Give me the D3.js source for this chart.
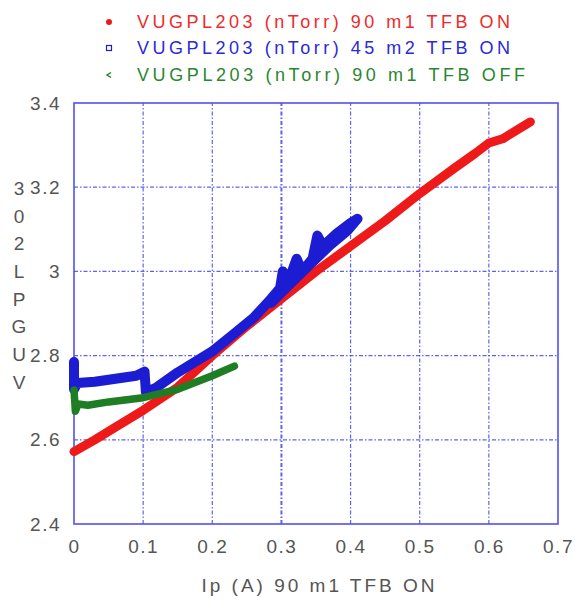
<!DOCTYPE html>
<html>
<head>
<meta charset="utf-8">
<script src="https://cdn.jsdelivr.net/npm/d3@7"></script>
<style>
  html, body { margin: 0; padding: 0; background: #fff; }
  svg { display: block; font-family: "Liberation Sans", Arial, sans-serif; }
</style>
</head>
<body>
<svg id="chart" width="576" height="599"></svg>
<script>
// Axis ticks
const xTicks = [0, 0.1, 0.2, 0.3, 0.4, 0.5, 0.6, 0.7];
const yTicks = [2.4, 2.6, 2.8, 3.0, 3.2, 3.4];
const xTickLabels = ["0", "0.1", "0.2", "0.3", "0.4", "0.5", "0.6", "0.7"];
const yTickLabels = ["2.4", "2.6", "2.8", "3", "3.2", "3.4"];

// Series: pressure vs. Ip (traces in acquisition order)
const seriesNames = [
  "VUGPL203 (nTorr) 90 m1 TFB ON",
  "VUGPL203 (nTorr) 45 m2 TFB ON",
  "VUGPL203 (nTorr) 90 m1 TFB OFF"
];
const redX = [0, 0.03, 0.06, 0.10, 0.15, 0.20, 0.25, 0.30, 0.35, 0.40, 0.45, 0.50, 0.55, 0.58, 0.60, 0.62, 0.66];
const redY = [2.572, 2.60, 2.63, 2.67, 2.725, 2.80, 2.87, 2.935, 3.00, 3.06, 3.12, 3.185, 3.245, 3.28, 3.305, 3.315, 3.355];

const blueX = [0, 0, 0.005, 0.03, 0.06, 0.09, 0.102, 0.104, 0.12, 0.15, 0.18, 0.20, 0.23, 0.26, 0.285, 0.298, 0.302, 0.31, 0.322, 0.33, 0.345, 0.352, 0.36, 0.38, 0.40, 0.41,
               0.395, 0.37, 0.34, 0.31, 0.285];
const blueY = [2.785, 2.72, 2.735, 2.738, 2.745, 2.752, 2.762, 2.713, 2.725, 2.76, 2.79, 2.81, 2.85, 2.89, 2.935, 2.96, 3.0, 2.975, 3.03, 3.0, 3.03, 3.085, 3.06, 3.09, 3.115, 3.125,
               3.096, 3.062, 3.014, 2.966, 2.925];

const greenX = [0, 0.002, 0.006, 0.02, 0.05, 0.10, 0.15, 0.20, 0.232];
const greenY = [2.718, 2.668, 2.685, 2.682, 2.69, 2.70, 2.72, 2.752, 2.775];

const yLabelChars = ["V", "U", "G", "P", "L", "2", "0", "3"];
const xTitle = "Ip (A)  90 m1 TFB ON";

const colors = ["#ee1a1a", "#1c1cd2", "#1f7d24"];
const textColors = ["#ee2a2a", "#2a2ad8", "#2a862e"];

const svg = d3.select("#chart");
const W = 576, H = 599;
const margin = { left: 74, right: 18, top: 103, bottom: 75 };

const x = d3.scaleLinear().domain([0, 0.7]).range([margin.left, W - margin.right]);
const y = d3.scaleLinear().domain([2.4, 3.4]).range([H - margin.bottom, margin.top]);

const gridColor = "#3a3af0";

// Grid lines
const grid = svg.append("g");
grid.selectAll("line.vx").data(xTicks.slice(1, -1)).join("line")
  .attr("x1", d => x(d)).attr("x2", d => x(d))
  .attr("y1", y(2.4)).attr("y2", y(3.4))
  .attr("stroke", gridColor)
  .attr("stroke-width", d => Math.abs(d - 0.3) < 1e-9 ? 2 : 1.2)
  .attr("stroke-opacity", 0.8)
  .attr("stroke-dasharray", "4,2,1.5,2");
grid.selectAll("line.hy").data(yTicks.slice(1, -1)).join("line")
  .attr("x1", x(0)).attr("x2", x(0.7))
  .attr("y1", d => y(d)).attr("y2", d => y(d))
  .attr("stroke", gridColor)
  .attr("stroke-width", 1.2)
  .attr("stroke-opacity", 0.8)
  .attr("stroke-dasharray", "4,2,1.5,2");

// Frame
svg.append("rect")
  .attr("x", x(0)).attr("y", y(3.4))
  .attr("width", x(0.7) - x(0)).attr("height", y(2.4) - y(3.4))
  .attr("fill", "none").attr("stroke", "#5050f2").attr("stroke-width", 1.6);

// Axes (labels only; the frame carries the lines)
const xAxis = d3.axisBottom(x).tickValues(xTicks).tickSize(0).tickPadding(10)
  .tickFormat((d, i) => xTickLabels[i]);
const gx = svg.append("g").attr("transform", `translate(0,${y(2.4)})`).call(xAxis);
gx.select(".domain").remove();
gx.selectAll("text")
  .attr("font-size", 19).attr("fill", "#555").attr("letter-spacing", 1.5)
  .attr("font-family", "Liberation Sans, Arial, sans-serif")
  .attr("dy", "1em");

const yAxis = d3.axisLeft(y).tickValues(yTicks).tickSize(0).tickPadding(13)
  .tickFormat((d, i) => yTickLabels[i]);
const gy = svg.append("g").attr("transform", `translate(${x(0)},0)`).call(yAxis);
gy.select(".domain").remove();
gy.selectAll("text")
  .attr("font-size", 19).attr("fill", "#555").attr("letter-spacing", 1.5)
  .attr("font-family", "Liberation Sans, Arial, sans-serif");

// Series bands
const line = d3.line().x(d => x(d[0])).y(d => y(d[1]));
const series = [
  { xs: redX, ys: redY, w: 9 },
  { xs: blueX, ys: blueY, w: 10 },
  { xs: greenX, ys: greenY, w: 7.5 }
];
series.forEach((s, i) => {
  const pts = s.xs.map((v, k) => [v, s.ys[k]]);
  svg.append("path")
    .datum(pts)
    .attr("d", line)
    .attr("fill", "none")
    .attr("stroke", colors[i])
    .attr("stroke-width", s.w)
    .attr("stroke-linejoin", "round")
    .attr("stroke-linecap", "round");
});

// Legend
const legendY = [22, 48, 75];
const legendLen = [373, 373, 388];
const lg = svg.append("g");
seriesNames.forEach((name, i) => {
  const yy = legendY[i];
  if (i === 0) {
    lg.append("circle").attr("cx", 109).attr("cy", yy).attr("r", 3).attr("fill", colors[0]);
  } else if (i === 1) {
    lg.append("rect").attr("x", 106.5).attr("y", yy - 2.5).attr("width", 5).attr("height", 5)
      .attr("fill", "none").attr("stroke", colors[1]).attr("stroke-width", 1.2);
  } else {
    lg.append("path").attr("d", `M111,${yy - 2.5} L107,${yy} L111,${yy + 2.5}`)
      .attr("fill", "none").attr("stroke", colors[2]).attr("stroke-width", 1.4);
  }
  lg.append("text")
    .attr("x", 137).attr("y", yy).attr("dy", "0.36em")
    .attr("font-size", 18)
    .attr("fill", textColors[i])
    .attr("textLength", legendLen[i])
    .attr("lengthAdjust", "spacing")
    .text(name);
});

// Y axis title, characters stacked upright
const yt = svg.append("g");
yLabelChars.forEach((c, i) => {
  yt.append("text")
    .attr("x", 19).attr("y", 382 - i * 27.7).attr("dy", "0.36em")
    .attr("text-anchor", "middle")
    .attr("font-size", 19).attr("fill", "#555")
    .text(c);
});

// X axis title
svg.append("text")
  .attr("x", 318).attr("y", 585).attr("dy", "0.36em")
  .attr("text-anchor", "middle")
  .attr("font-size", 19).attr("fill", "#555")
  .attr("textLength", 233).attr("lengthAdjust", "spacing")
  .text(xTitle);
</script>
</body>
</html>
